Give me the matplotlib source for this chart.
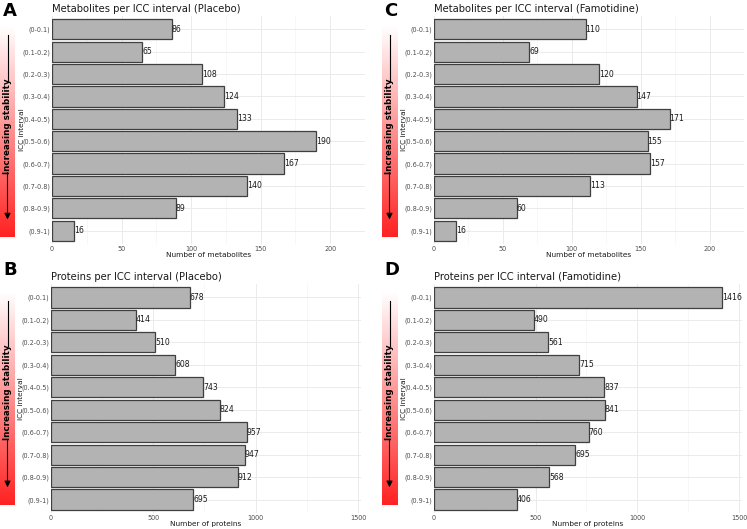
import numpy as np
import matplotlib
matplotlib.use("Agg")
import matplotlib.pyplot as plt
from matplotlib.colors import LinearSegmentedColormap

# ICC intervals (top to bottom)
intervals = ["(0-0.1)", "(0.1-0.2)", "(0.2-0.3)", "(0.3-0.4)", "(0.4-0.5)",
             "(0.5-0.6)", "(0.6-0.7)", "(0.7-0.8)", "(0.8-0.9)", "(0.9-1)"]

met_placebo = [86, 65, 108, 124, 133, 190, 167, 140, 89, 16]
prot_placebo = [678, 414, 510, 608, 743, 824, 957, 947, 912, 695]
met_famotidine = [110, 69, 120, 147, 171, 155, 157, 113, 60, 16]
prot_famotidine = [1416, 490, 561, 715, 837, 841, 760, 695, 568, 406]

W, H = 747, 529
fig = plt.figure(figsize=(W / 100, H / 100), dpi=100)
fig.patch.set_facecolor("white")


def px_axes(x0, y0, x1, y1):
    # pixel box (top-left origin) -> figure axes
    return fig.add_axes([x0 / W, 1 - y1 / H, (x1 - x0) / W, (y1 - y0) / H])


red_cmap = LinearSegmentedColormap.from_list("st", ["#ffffff", "#ff2222"])


def stability_bar(x0, y0, x1, y1):
    ax = px_axes(x0, y0, x1, y1)
    grad = np.linspace(0, 1, 256).reshape(-1, 1)
    ax.imshow(grad, aspect="auto", cmap=red_cmap, extent=[0, 1, 0, 1], origin="upper")
    ax.set_xlim(0, 1)
    ax.set_ylim(0, 1)
    ax.axis("off")
    ax.plot([0.5, 0.5], [0.96, 0.745], color="black", lw=0.8)
    ax.annotate("", xy=(0.5, 0.07), xytext=(0.5, 0.32),
                arrowprops=dict(arrowstyle="-|>", color="black", lw=0.8,
                                mutation_scale=9))
    ax.text(0.5, 0.53, "Increasing stability", rotation=90, ha="center", va="center",
            fontsize=6.3, fontweight="bold", color="black")


def panel(box, values, xmax, major, minor, title, xlabel, letter, letter_pos):
    ax = px_axes(*box)
    y = np.arange(len(intervals))[::-1] + 1
    ax.barh(y, values, height=0.9, color="#b3b3b3", edgecolor="#3f3f3f", linewidth=0.9,
            zorder=3)
    for yi, v in zip(y, values):
        ax.text(v, yi, str(v), ha="left", va="center", fontsize=5.6, color="#1a1a1a",
                zorder=4)
    ax.set_xlim(0, xmax)
    ax.set_ylim(0.4, 10.6)
    ax.set_yticks(y)
    ax.set_yticklabels(intervals)
    ax.set_xticks(major)
    ax.set_xticks(minor, minor=True)
    ax.tick_params(axis="both", which="both", length=0, labelsize=4.7,
                   colors="#4d4d4d", pad=1.5)
    ax.grid(True, which="major", color="#ebebeb", lw=0.7, zorder=0)
    ax.grid(True, which="minor", axis="x", color="#f4f4f4", lw=0.5, zorder=0)
    for s in ax.spines.values():
        s.set_visible(False)
    ax.set_xlabel(xlabel, fontsize=5.3, color="#1a1a1a", labelpad=0)
    ax.set_ylabel("ICC interval", fontsize=5.3, color="#1a1a1a")
    ax.yaxis.set_label_coords(-27 / (box[2] - box[0]), 0.5)
    ax.set_title(title, fontsize=7.2, loc="left", pad=3, color="#1a1a1a")
    fig.text(letter_pos[0] / W, 1 - letter_pos[1] / H, letter, fontsize=13,
             fontweight="bold", ha="left", va="center")
    return ax


met_major = [0, 50, 100, 150, 200]
met_minor = [25, 75, 125, 175, 225]
prot_major = [0, 500, 1000, 1500]
prot_minor = [250, 750, 1250]

stability_bar(0, 27, 15, 237)
stability_bar(0, 292, 15, 505)
stability_bar(382, 27, 397, 237)
stability_bar(382, 292, 397, 505)

panel((52, 16, 365, 244), met_placebo, 225, met_major, met_minor,
      "Metabolites per ICC interval (Placebo)", "Number of metabolites", "A", (3, 11))
panel((51, 284, 361, 513), prot_placebo, 1515, prot_major, prot_minor,
      "Proteins per ICC interval (Placebo)", "Number of proteins", "B", (3, 270))
panel((434, 16, 744, 244), met_famotidine, 222, met_major, met_minor,
      "Metabolites per ICC interval (Famotidine)", "Number of metabolites", "C", (384, 11))
panel((434, 284, 742, 513), prot_famotidine, 1515, prot_major, prot_minor,
      "Proteins per ICC interval (Famotidine)", "Number of proteins", "D", (384, 270))

fig.savefig("out.png", dpi=100, facecolor="white")
